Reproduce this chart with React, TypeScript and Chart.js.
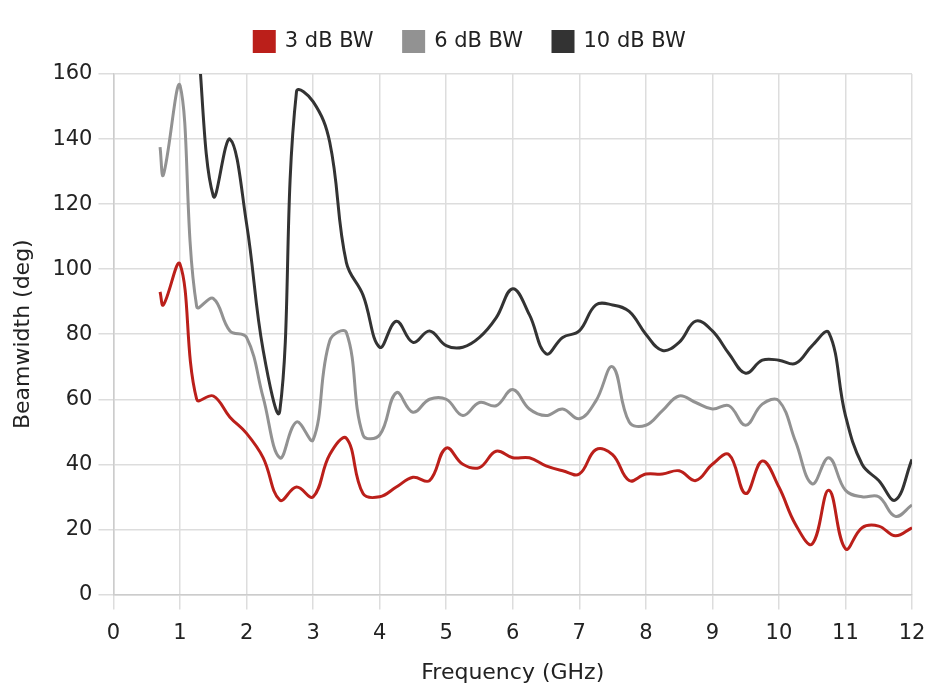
import React, { useEffect, useRef } from "react";
import { Chart, registerables } from "chart.js";

Chart.register(...registerables);

const freq = [0.7, 0.75, 1.0, 1.25, 1.5, 1.75, 2.0, 2.25, 2.5, 2.75, 3.0, 3.25, 3.5, 3.75, 4.0, 4.25, 4.5, 4.75, 5.0, 5.25, 5.5, 5.75, 6.0, 6.25, 6.5, 6.75, 7.0, 7.25, 7.5, 7.75, 8.0, 8.25, 8.5, 8.75, 9.0, 9.25, 9.5, 9.75, 10.0, 10.25, 10.5, 10.75, 11.0, 11.25, 11.5, 11.75, 12.0];

const bw3 = [93, 89, 101.5, 60, 61, 54.5, 49.5, 42, 29, 33, 30, 43, 48, 31, 30, 33, 36, 35, 45, 40, 39, 44, 42, 42, 39.5, 38, 37, 44.5, 43, 35, 37, 37, 38, 35, 40, 43, 31, 41, 33, 21.5, 15.5, 32, 14, 20.5, 21, 18, 20.5];

const bw6 = [137.5, 129, 156.5, 88.5, 91, 81, 79, 60.5, 42, 53, 47.5, 78, 80.5, 49, 49, 62, 56, 60, 60, 55, 59, 58, 63, 57, 55, 57, 54, 59.5, 70, 53, 52, 56.5, 61, 59, 57, 58, 52, 58.5, 59.5, 47, 34, 42, 32, 30, 30, 24, 27.5];

const bw10 = [null, null, null, 175, 122.5, 140, 114, 75, 56.5, 154.5, 151.5, 139, 102, 92, 76, 84, 77.5, 81, 76.5, 76, 79, 85, 94, 86, 74, 79, 81, 89, 89, 87, 80, 75, 77.5, 84, 81, 74, 68, 72, 72, 71, 76.5, 80.5, 55, 40, 35, 29, 41.5];

const seriesNames = ["3 dB BW", "6 dB BW", "10 dB BW"];
const seriesColors = ["#bb1f1a", "#929292", "#333333"];
const xTicks = [0, 1, 2, 3, 4, 5, 6, 7, 8, 9, 10, 11, 12];
const yTicks = [0, 20, 40, 60, 80, 100, 120, 140, 160];

const FONT = "'DejaVu Sans', sans-serif";

function toPoints(vals: (number | null)[]) {
  return freq.map((f, i) => ({ x: f, y: vals[i] }));
}

const legendSpacer = {
  id: "legendSpacer",
  afterInit(chart: any) {
    const legend = chart.legend;
    if (!legend) return;
    const orig = legend.fit.bind(legend);
    legend.fit = function () {
      orig();
      this.height += 12;
    };
  },
};

export default function App() {
  const ref = useRef<HTMLCanvasElement | null>(null);
  useEffect(() => {
    document.body.style.margin = "0";
    if (!ref.current) return;
    const all = [bw3, bw6, bw10];
    const chart = new Chart(ref.current, {
      type: "line",
      data: {
        datasets: all.map((vals, i) => ({
          label: seriesNames[i],
          data: toPoints(vals),
          borderColor: seriesColors[i],
          backgroundColor: seriesColors[i],
          borderWidth: 3,
          pointRadius: 0,
          tension: 0.4,
          fill: false,
          spanGaps: false,
        })),
      },
      plugins: [legendSpacer],
      options: {
        animation: false,
        responsive: true,
        maintainAspectRatio: false,
        layout: { padding: { left: 10, right: 0, top: 1, bottom: 10 } },
        plugins: {
          legend: {
            position: "top",
            labels: {
              boxWidth: 20,
              boxHeight: 20,
              padding: 30,
              color: "#222",
              font: { family: FONT, size: 21 },
            },
          },
          tooltip: { enabled: false },
        },
        scales: {
          x: {
            type: "linear",
            min: 0,
            max: 12,
            afterBuildTicks: (axis: any) => {
              axis.ticks = xTicks.map((v) => ({ value: v }));
            },
            afterFit: (axis: any) => {
              axis.paddingRight = 18;
            },
            ticks: { color: "#222", font: { family: FONT, size: 21 }, padding: 12 },
            grid: { color: "#dddddd", lineWidth: 1.5, tickLength: 15 },
            border: { color: "#cccccc", width: 1.5 },
            title: {
              display: true,
              text: "Frequency (GHz)",
              color: "#222",
              font: { family: FONT, size: 22 },
              padding: { top: 1, bottom: 0 },
            },
          },
          y: {
            min: 0,
            max: 160,
            afterBuildTicks: (axis: any) => {
              axis.ticks = yTicks.map((v) => ({ value: v }));
            },
            ticks: { color: "#222", font: { family: FONT, size: 21 }, padding: 6 },
            grid: { color: "#dddddd", lineWidth: 1.5, tickLength: 15 },
            border: { color: "#cccccc", width: 1.5 },
            title: {
              display: true,
              text: "Beamwidth (deg)",
              color: "#222",
              font: { family: FONT, size: 22 },
              padding: { top: 0, bottom: 10 },
            },
          },
        },
      },
    });
    return () => chart.destroy();
  }, []);
  return (
    <div style={{ width: 930, height: 696, position: "relative" }}>
      <canvas ref={ref} />
    </div>
  );
}
